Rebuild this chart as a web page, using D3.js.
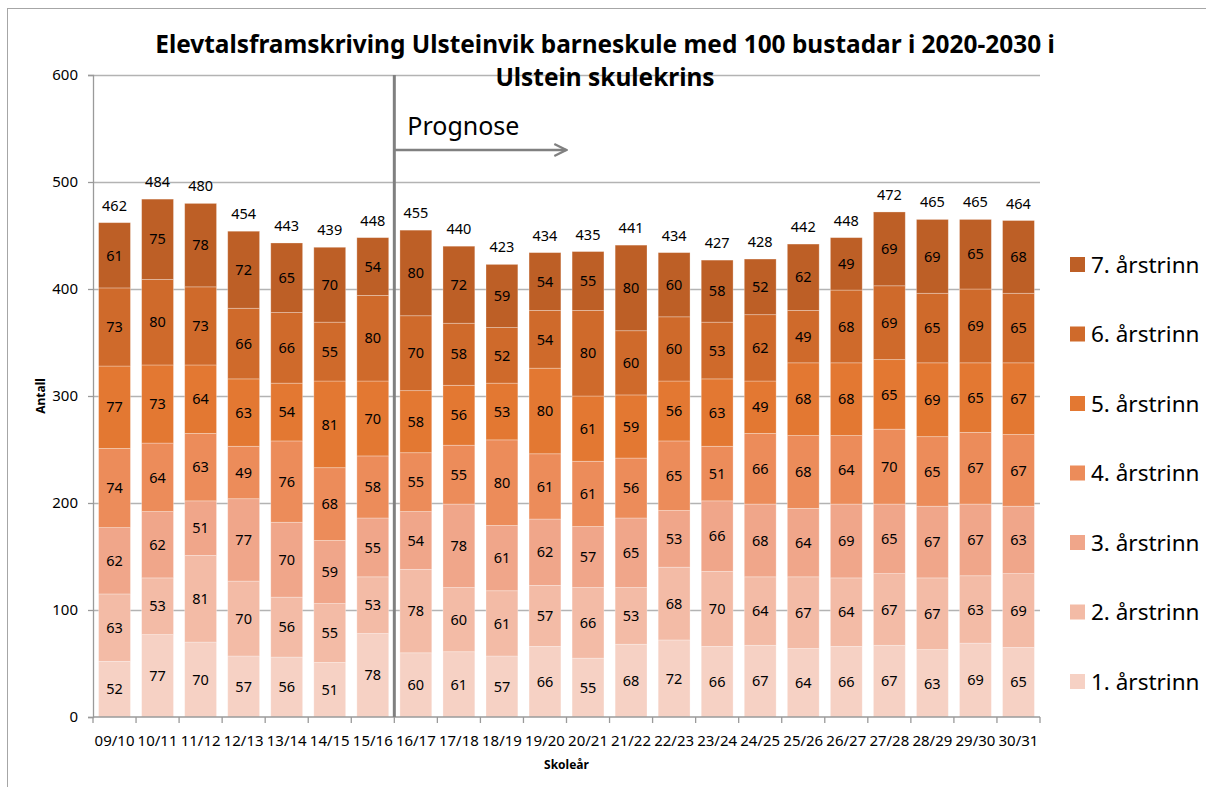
<!DOCTYPE html>
<html>
<head>
<meta charset="utf-8">
<script src="https://cdn.jsdelivr.net/npm/d3@7"></script>
<style>
  body { margin: 0; background: #fff; }
  text { font-family: "Noto Sans", "Open Sans", sans-serif; fill: #000; }
</style>
</head>
<body>
<div class="chart"></div>
<script>
// school years (x categories)
const years = ["09/10","10/11","11/12","12/13","13/14","14/15","15/16","16/17","17/18","18/19","19/20",
  "20/21","21/22","22/23","23/24","24/25","25/26","26/27","27/28","28/29","29/30","30/31"];

const series = ["1. årstrinn","2. årstrinn","3. årstrinn","4. årstrinn","5. årstrinn","6. årstrinn","7. årstrinn"];

// values per grade, one entry per year
const grade1 = [52,77,70,57,56,51,78,60,61,57,66,55,68,72,66,67,64,66,67,63,69,65];
const grade2 = [63,53,81,70,56,55,53,78,60,61,57,66,53,68,70,64,67,64,67,67,63,69];
const grade3 = [62,62,51,77,70,59,55,54,78,61,62,57,65,53,66,68,64,69,65,67,67,63];
const grade4 = [74,64,63,49,76,68,58,55,55,80,61,61,56,65,51,66,68,64,70,65,67,67];
const grade5 = [77,73,64,63,54,81,70,58,56,53,80,61,59,56,63,49,68,68,65,69,65,67];
const grade6 = [73,80,73,66,66,55,80,70,58,52,54,80,60,60,53,62,49,68,69,65,69,65];
const grade7 = [61,75,78,72,65,70,54,80,72,59,54,55,80,60,58,52,62,49,69,69,65,68];

const totals = [462,484,480,454,443,439,448,455,440,423,434,435,441,434,427,428,442,448,472,465,465,464];

const colors = ["#f6d1c4","#f3bba6","#f0a68a","#ec8c5a","#e37832","#cf6a2b","#bd5f26"];

const yTicks = [0,100,200,300,400,500,600];
const forecastStart = "16/17";

const grades = [grade1, grade2, grade3, grade4, grade5, grade6, grade7];
const table = years.map((y, i) => {
  const row = {year: y};
  series.forEach((s, k) => row[s] = grades[k][i]);
  return row;
});

const W = 1206, H = 787;
const margin = {top: 75, left: 93, right: 166, bottom: 70};
const width = W - margin.left - margin.right, height = H - margin.top - margin.bottom;

const svg = d3.select(".chart").append("svg")
  .attr("width", W).attr("height", H);

// outer frame
svg.append("rect")
  .attr("x", 7.5).attr("y", 8.5).attr("width", 1400).attr("height", 1000)
  .attr("fill", "none").attr("stroke", "#a6a6a6");

const g = svg.append("g").attr("transform", `translate(${margin.left},${margin.top})`);

const x = d3.scaleBand().domain(years).range([0, width]).paddingInner(0.26).paddingOuter(0.13);
const y = d3.scaleLinear().domain([0, 600]).range([height, 0]);
const color = d3.scaleOrdinal().domain(series).range(colors);

// gridlines
g.selectAll(".grid").data(yTicks.slice(1)).enter().append("line")
  .attr("x1", 0).attr("x2", width)
  .attr("y1", d => Math.round(y(d)) + 0.5).attr("y2", d => Math.round(y(d)) + 0.5)
  .attr("stroke", "#b3b3b3").attr("stroke-width", 1.3);

const stack = d3.stack().keys(series)(table);

const layers = g.selectAll(".layer").data(stack).enter().append("g")
  .attr("fill", d => color(d.key));

layers.selectAll("rect").data(d => d).enter().append("rect")
  .attr("x", d => x(d.data.year))
  .attr("width", x.bandwidth())
  .attr("y", d => y(d[1]))
  .attr("height", d => y(d[0]) - y(d[1]))
  .attr("stroke", "rgba(255,255,255,0.35)").attr("stroke-width", 0.8);

layers.selectAll("text").data(d => d).enter().append("text")
  .attr("x", d => x(d.data.year) + x.bandwidth() / 2)
  .attr("y", d => (y(d[0]) + y(d[1])) / 2)
  .attr("dy", "0.36em")
  .attr("text-anchor", "middle")
  .attr("font-size", 14.5)
  .text(d => d[1] - d[0]);

// totals above bars
g.selectAll(".total").data(years).enter().append("text")
  .attr("x", d => x(d) + x.bandwidth() / 2)
  .attr("y", (d, i) => y(totals[i]) - 12)
  .attr("text-anchor", "middle")
  .attr("font-size", 14.5)
  .text((d, i) => totals[i]);

// axes
const yAxis = d3.axisLeft(y).tickValues(yTicks).tickSize(5).tickPadding(10);
g.append("g").call(yAxis)
  .call(a => a.selectAll("text").attr("font-size", 15))
  .call(a => a.selectAll("line,path").attr("stroke", "#9a9a9a").attr("stroke-width", 1.3));

const xAxisG = g.append("g").attr("transform", `translate(0,${height})`);
xAxisG.append("line").attr("x1", 0).attr("x2", width).attr("stroke", "#9a9a9a").attr("stroke-width", 1.3);
const step = x.step();
xAxisG.selectAll(".tk").data(d3.range(years.length + 1)).enter().append("line")
  .attr("x1", i => x(years[0]) - step * x.paddingInner() / 2 + i * step)
  .attr("x2", i => x(years[0]) - step * x.paddingInner() / 2 + i * step)
  .attr("y1", 0).attr("y2", 6)
  .attr("stroke", "#9a9a9a").attr("stroke-width", 1.3);
xAxisG.selectAll(".lbl").data(years).enter().append("text")
  .attr("x", d => x(d) + x.bandwidth() / 2)
  .attr("y", 29)
  .attr("text-anchor", "middle")
  .attr("font-size", 15)
  .text(d => d);

// forecast line + arrow
const fx = x(forecastStart) - step * x.paddingInner() / 2;
g.append("line").attr("x1", fx).attr("x2", fx).attr("y1", 0).attr("y2", height)
  .attr("stroke", "#808080").attr("stroke-width", 3);
svg.append("defs").append("marker")
  .attr("id", "arr").attr("viewBox", "0 0 10 10").attr("refX", 9).attr("refY", 5)
  .attr("markerWidth", 6).attr("markerHeight", 6).attr("orient", "auto")
  .append("path").attr("d", "M1,1 L9,5 L1,9").attr("fill", "none").attr("stroke", "#808080").attr("stroke-width", 1.5);
g.append("line").attr("x1", fx).attr("x2", fx + 172).attr("y1", 75).attr("y2", 75)
  .attr("stroke", "#808080").attr("stroke-width", 2.5).attr("marker-end", "url(#arr)");
g.append("text").attr("x", fx + 13).attr("y", 60).attr("font-size", 25).text("Prognose");

// axis titles
g.append("text").attr("transform", `translate(-48,${height / 2}) rotate(-90)`)
  .attr("text-anchor", "middle").attr("font-size", 12).attr("font-weight", "bold").text("Antall");
g.append("text").attr("x", width / 2).attr("y", height + 52)
  .attr("text-anchor", "middle").attr("font-size", 12).attr("font-weight", "bold").text("Skoleår");

// title
const title = svg.append("text").attr("x", 605).attr("y", 53).attr("text-anchor", "middle")
  .attr("font-size", 24).attr("font-weight", "bold");
title.append("tspan").attr("x", 605).text("Elevtalsframskriving Ulsteinvik barneskule med 100 bustadar i 2020-2030 i");
title.append("tspan").attr("x", 605).attr("dy", 33).text("Ulstein skulekrins");
const tl = title.select("tspan").node().getComputedTextLength();
title.attr("font-size", 24 * 900 / tl);

// legend
const legend = svg.append("g").attr("transform", "translate(1070,265)");
const items = legend.selectAll("g").data(series.slice().reverse()).enter().append("g")
  .attr("transform", (d, i) => `translate(0,${i * 69.5})`);
items.append("rect").attr("x", 0).attr("y", -8).attr("width", 15).attr("height", 15).attr("fill", d => color(d));
items.append("text").attr("x", 21).attr("y", 0).attr("dy", "0.35em").attr("font-size", 22.5).text(d => d);
</script>
</body>
</html>
